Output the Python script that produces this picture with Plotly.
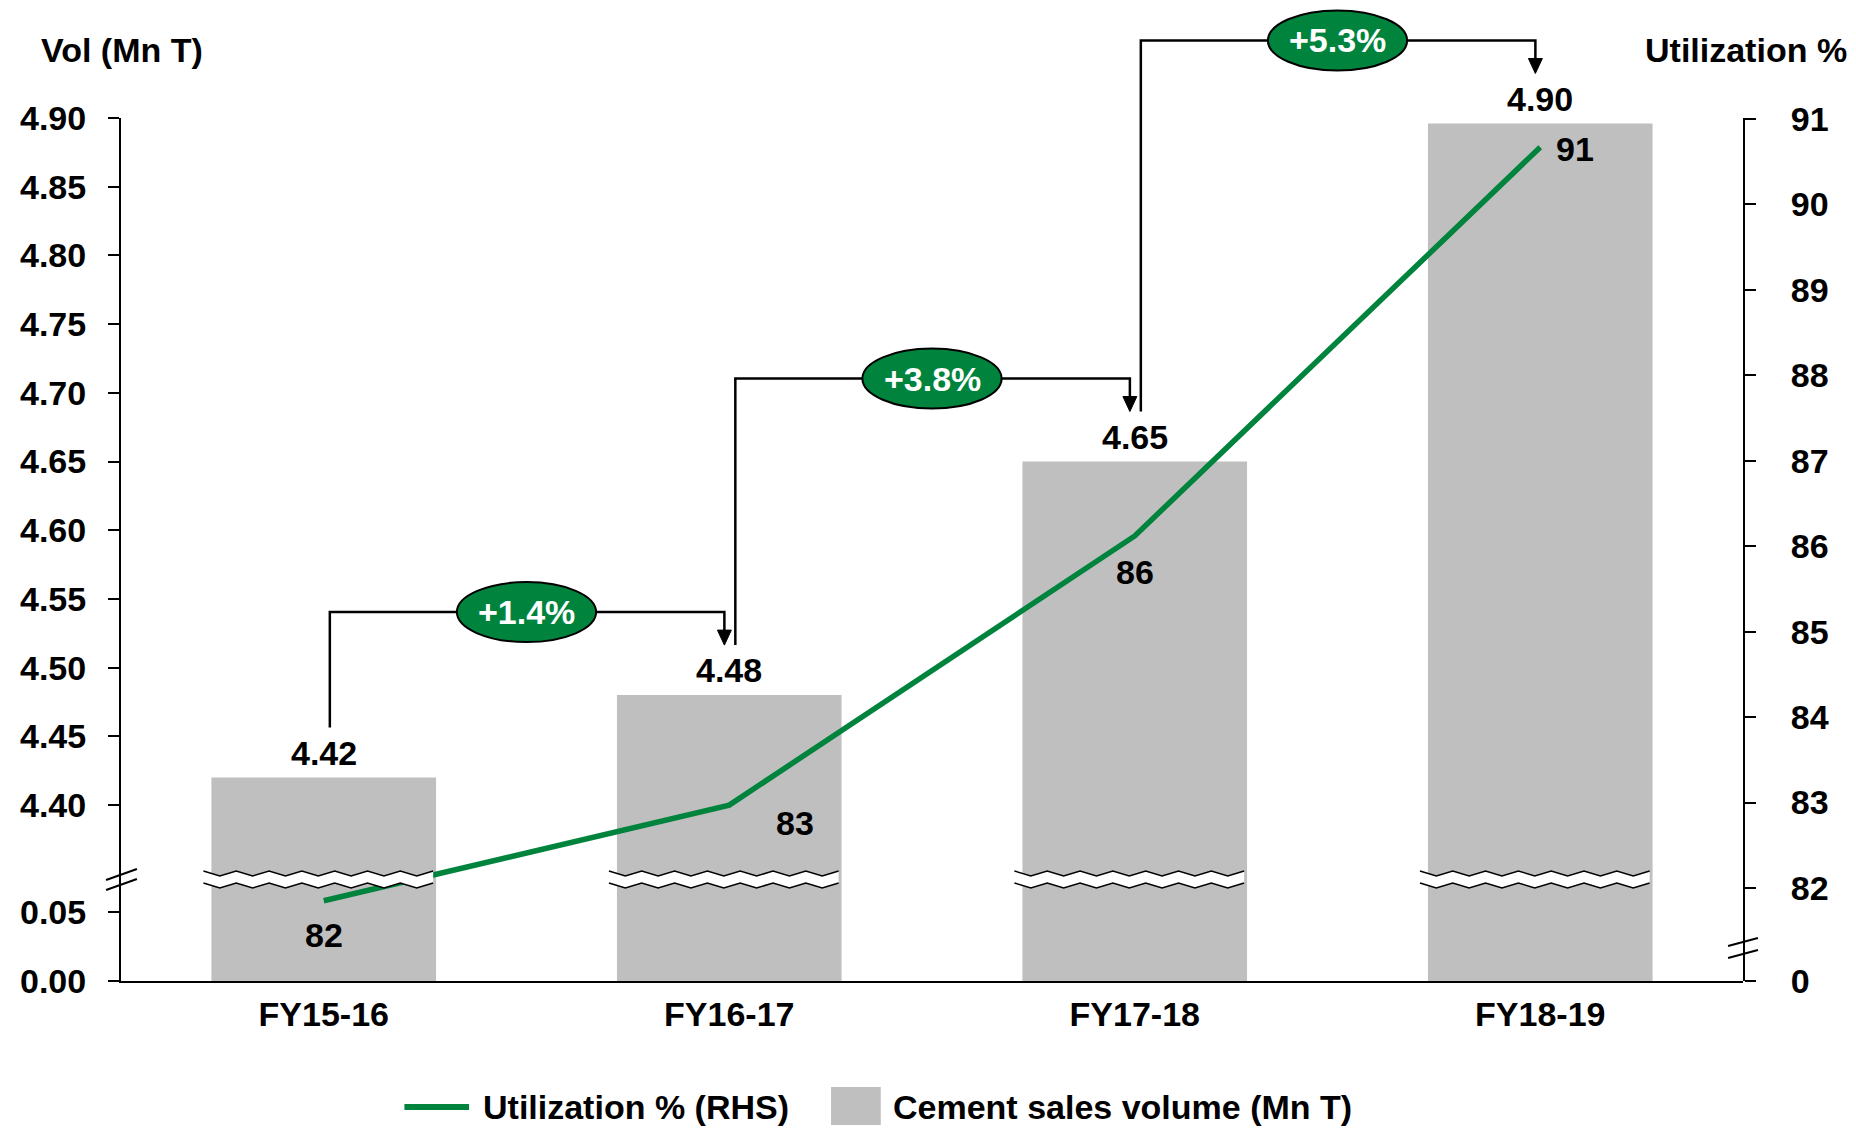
import plotly.graph_objects as go

# ---------------- data ----------------
categories = ["FY15-16", "FY16-17", "FY17-18", "FY18-19"]
sales_volume = [4.42, 4.48, 4.65, 4.896]          # Mn T
utilization = [81.85, 82.97, 86.12, 90.67]        # %
utilization_labels = ["82", "83", "86", "91"]
growth_labels = ["+1.4%", "+3.8%", "+5.3%"]
vol_ticks_upper = [4.40, 4.45, 4.50, 4.55, 4.60, 4.65, 4.70, 4.75, 4.80, 4.85, 4.90]
vol_ticks_lower = [0.00, 0.05]
util_ticks_upper = [82, 83, 84, 85, 86, 87, 88, 89, 90, 91]
util_ticks_lower = [0]
legend_names = ["Utilization % (RHS)", "Cement sales volume (Mn T)"]

# ---------------- layout constants (absolute page px) ----------------
OFF = 8                      # default body margin of the html page
W, H = 1856 - OFF, 1128 - OFF
L, R, T, B = 112, 1743, 118, 981
PW, PH = R - L, B - T
UNIT = PW / len(categories)  # px per category


def py(px):
    return (B - px) / PH


def pxx(px):
    return (px - L) / PW


GREEN = "#00843D"
GRAY = "#BFBFBF"
FONT = "Liberation Sans, Arial, sans-serif"
FS = 34

d_left = py(878)
d_right = py(940)

up_lo, up_hi = 4.3469, 4.90
lo_hi = 0.0746
r_lo, r_hi = 81.391, 91.012


def up_paper(v):
    return d_left + (v - up_lo) / (up_hi - up_lo) * (1 - d_left)


bold = dict(family=FONT, size=FS, color="black", weight="bold")

fig = go.Figure()
fig.add_trace(go.Bar(x=categories, y=sales_volume, xaxis="x", yaxis="y",
                     marker=dict(color=GRAY, line=dict(width=0)), showlegend=False,
                     hoverinfo="skip"))
fig.add_trace(go.Bar(x=categories, y=sales_volume, xaxis="x", yaxis="y2",
                     marker=dict(color=GRAY, line=dict(width=0)),
                     name=legend_names[1], showlegend=False))
fig.add_trace(go.Scatter(x=categories, y=utilization, xaxis="x", yaxis="y3",
                         mode="lines", line=dict(color=GREEN, width=5.5),
                         name=legend_names[0], showlegend=False))
# empty trace so the lower right-hand axis segment is drawn
fig.add_trace(go.Scatter(x=categories, y=[None] * len(categories), xaxis="x", yaxis="y4",
                         mode="lines", showlegend=False, hoverinfo="skip"))

axis_common = dict(showline=True, linecolor="black", linewidth=2, showgrid=False,
                   zeroline=False, ticks="outside", ticklen=11, tickwidth=2,
                   tickcolor="black", tickfont=bold, fixedrange=True)

fig.update_layout(
    width=W, height=H,
    margin=dict(l=L - OFF, r=W - (R - OFF), t=T - OFF, b=H - (B - OFF), pad=0),
    paper_bgcolor="white", plot_bgcolor="rgba(0,0,0,0)",
    barmode="overlay", bargap=0.446,
    font=dict(family=FONT, size=FS, color="black"),
    xaxis=dict(type="category", domain=[0, 1], anchor="y", range=[-0.5, 3.5],
               showline=True, linecolor="black", linewidth=2, ticks="",
               showgrid=False, tickfont=bold, ticklabelstandoff=2, fixedrange=True),
    yaxis=dict(domain=[0, d_left], anchor="x", range=[0, lo_hi],
               tickvals=vol_ticks_lower, tickformat=".2f", ticklabelstandoff=15,
               **axis_common),
    yaxis2=dict(domain=[d_left, 1], anchor="x", range=[up_lo, up_hi],
                tickvals=vol_ticks_upper, tickformat=".2f", ticklabelstandoff=15,
                **axis_common),
    yaxis3=dict(domain=[d_right, 1], anchor="x", side="right", range=[r_lo, r_hi],
                tickvals=util_ticks_upper, ticklabelstandoff=28, **axis_common),
    yaxis4=dict(domain=[0, d_right], anchor="x", side="right", range=[0, 1],
                tickvals=util_ticks_lower, ticklabelstandoff=28, **axis_common),
    showlegend=False,
)

shapes = []
annotations = []

# axis titles
annotations.append(dict(text="Vol (Mn T)", x=pxx(30), y=py(50), xref="paper", yref="paper",
                        xanchor="left", yanchor="middle", showarrow=False, font=bold))
annotations.append(dict(text="Utilization %", x=pxx(1850), y=py(50), xref="paper", yref="paper",
                        xanchor="right", yanchor="middle", showarrow=False, font=bold))

# bar value labels
for i, v in enumerate(sales_volume):
    annotations.append(dict(text=f"{v:.2f}", x=categories[i], y=v, xref="x", yref="y2",
                            yshift=25, showarrow=False, font=bold,
                            xanchor="center", yanchor="middle"))

# utilisation labels
util_shift = [(0, -34), (66, -18), (0, -36), (35, -2)]
for i, v in enumerate(utilization):
    dx, dy = util_shift[i]
    annotations.append(dict(text=utilization_labels[i], x=categories[i], y=v, xref="x", yref="y3",
                            xshift=dx, yshift=dy, showarrow=False, font=bold,
                            xanchor="center", yanchor="middle"))

# growth brackets
for i, g in enumerate(growth_labels):
    y_next = up_paper(sales_volume[i + 1])
    y_lvl = y_next + 83 / PH
    y_start = up_paper(sales_volume[i]) + 50 / PH
    y_tip = y_next + 50 / PH
    y_base = y_tip + 15 / PH
    xl = i + 0.015
    xa = i + 1 - 0.012
    shapes.append(dict(type="path", xref="x", yref="paper", layer="above",
                       path=f"M {xl},{y_start} L {xl},{y_lvl} L {xa},{y_lvl} L {xa},{y_base}",
                       line=dict(color="black", width=2.5)))
    hw = 7 / UNIT
    shapes.append(dict(type="path", xref="x", yref="paper", layer="above",
                       path=f"M {xa - hw},{y_base} L {xa + hw},{y_base} L {xa},{y_tip} Z",
                       fillcolor="black", line=dict(color="black", width=1)))
    xc = i + 0.5
    ew = 70 / UNIT
    eh = 30 / PH
    shapes.append(dict(type="circle", xref="x", yref="paper", layer="above",
                       x0=xc - ew, x1=xc + ew, y0=y_lvl - eh, y1=y_lvl + eh,
                       fillcolor=GREEN, line=dict(color="black", width=2)))
    annotations.append(dict(text=g, x=xc, y=y_lvl, xref="x", yref="paper", showarrow=False,
                            font=dict(family=FONT, size=FS, color="white", weight="bold"),
                            xanchor="center", yanchor="middle"))

# zigzag breaks on bars
half_w = 121 / UNIT
step = 16.5 / UNIT
for i in range(len(categories)):
    xs = []
    x = i - half_w
    while x <= i + half_w + 1e-9:
        xs.append(x)
        x += step
    up_line = [(xx, py(871 if k % 2 == 0 else 876)) for k, xx in enumerate(xs)]
    lo_line = [(xx, py(883 if k % 2 == 0 else 888)) for k, xx in enumerate(xs)]
    poly = up_line + lo_line[::-1]
    path = "M " + " L ".join(f"{a},{b}" for a, b in poly) + " Z"
    shapes.append(dict(type="path", xref="x", yref="paper", layer="above", path=path,
                       fillcolor="white", line=dict(width=0)))
    for ln in (up_line, lo_line):
        p = "M " + " L ".join(f"{a},{b}" for a, b in ln)
        shapes.append(dict(type="path", xref="x", yref="paper", layer="above", path=p,
                           line=dict(color="black", width=1.5)))

# axis break marks
for (x0, y0, x1, y1) in [(97, 880, 128, 869), (97, 890, 128, 879),
                         (1728, 946, 1758, 938), (1728, 958, 1758, 950)]:
    shapes.append(dict(type="line", xref="paper", yref="paper", layer="above",
                       x0=pxx(x0), y0=py(y0), x1=pxx(x1), y1=py(y1),
                       line=dict(color="black", width=2)))

# legend (drawn manually to match the large swatches)
shapes.append(dict(type="line", xref="paper", yref="paper", x0=pxx(397), x1=pxx(462),
                   y0=py(1107), y1=py(1107), line=dict(color=GREEN, width=6)))
annotations.append(dict(text=legend_names[0], x=pxx(474), y=py(1107), xref="paper", yref="paper",
                        xanchor="left", yanchor="middle", showarrow=False, font=bold))
shapes.append(dict(type="rect", xref="paper", yref="paper", x0=pxx(826), x1=pxx(876),
                   y0=py(1087), y1=py(1125), fillcolor=GRAY, line=dict(width=0)))
annotations.append(dict(text=legend_names[1], x=pxx(886), y=py(1107), xref="paper", yref="paper",
                        xanchor="left", yanchor="middle", showarrow=False, font=bold))

fig.update_layout(shapes=shapes, annotations=annotations)
fig.write_html("out.html")
